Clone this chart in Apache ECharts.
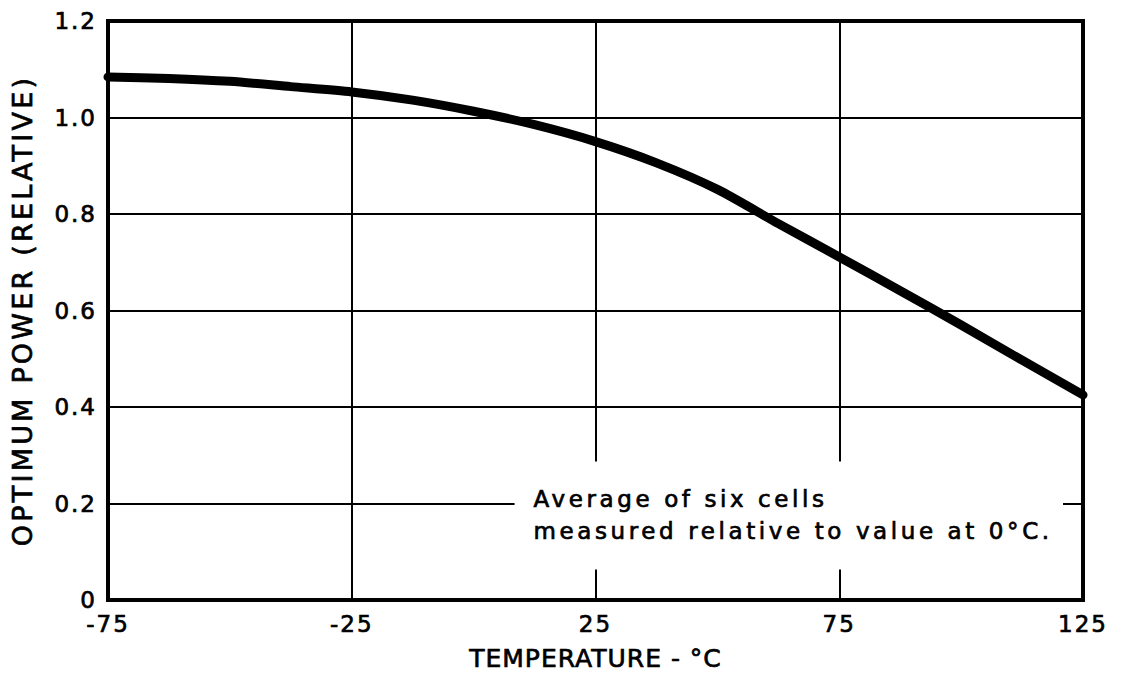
<!DOCTYPE html>
<html>
<head>
<meta charset="utf-8">
<script src="https://cdn.jsdelivr.net/npm/echarts@6/dist/echarts.min.js"></script>
<style>
  html, body { margin: 0; padding: 0; background: #ffffff; }
  #chart { width: 1124px; height: 679px; }
</style>
</head>
<body>
<div id="chart"></div>
<script>
// Temperature (°C) and optimum power relative to the 0 °C value
const temperatures = [-75, -62.5, -50, -37.5, -25, -12.5, 0, 12.5, 25, 37.5, 50, 62.5, 75, 87.5, 100, 112.5, 125];
const relativePower = [1.084, 1.081, 1.075, 1.064, 1.053, 1.036, 1.013, 0.985, 0.950, 0.906, 0.851, 0.780, 0.711, 0.641, 0.570, 0.497, 0.425];

// Axis ticks and labels
const xTicks = [-75, -25, 25, 75, 125];
const yTicks = [0, 0.2, 0.4, 0.6, 0.8, 1.0, 1.2];
const xTitle = 'TEMPERATURE - °C';
const yTitle = 'OPTIMUM POWER (RELATIVE)';
const noteLines = ['Average of six cells', 'measured relative to value at 0°C.'];

const FONT = '"DejaVu Sans", "Liberation Sans", sans-serif';
// a hairline outline gives the lettering a slightly heavier stroke
const INK = { color: '#000', textBorderColor: '#000', textBorderWidth: 0.7 };

const chart = echarts.init(document.getElementById('chart'), null, { renderer: 'svg' });

const points = temperatures.map((t, i) => [t, relativePower[i]]);

chart.setOption({
  animation: false,
  backgroundColor: '#ffffff',
  grid: {
    left: 108, right: 41, top: 21, bottom: 79,
    show: true, borderColor: '#000', borderWidth: 4, backgroundColor: 'transparent'
  },
  xAxis: {
    type: 'value',
    min: xTicks[0],
    max: xTicks[xTicks.length - 1],
    name: xTitle,
    nameLocation: 'middle',
    nameGap: 46,
    nameTextStyle: Object.assign({ fontFamily: FONT, fontSize: 25 }, INK),
    axisLine: { show: true, onZero: false, lineStyle: { color: '#000', width: 4 } },
    axisTick: { show: false, customValues: xTicks },
    axisLabel: Object.assign({
      customValues: xTicks,
      fontFamily: FONT, fontSize: 23, margin: 12
    }, INK),
    splitLine: { show: true, lineStyle: { color: '#000', width: 2 } }
  },
  yAxis: {
    type: 'value',
    min: yTicks[0],
    max: yTicks[yTicks.length - 1],
    interval: 0.2,
    name: yTitle,
    nameLocation: 'middle',
    nameGap: 72,
    nameTextStyle: Object.assign({ fontFamily: FONT, fontSize: 27 }, INK),
    axisLine: { show: true, onZero: false, lineStyle: { color: '#000', width: 4 } },
    axisTick: { show: false },
    axisLabel: Object.assign({
      fontFamily: FONT, fontSize: 23, margin: 11,
      formatter: v => (v === 0 ? '0' : v.toFixed(1))
    }, INK),
    splitLine: { show: true, lineStyle: { color: '#000', width: 2 } }
  },
  series: [{
    type: 'line',
    data: points,
    smooth: 0.25,
    symbol: 'none',
    lineStyle: { color: '#000', width: 9, cap: 'round', join: 'round' },
    z: 3
  }]
});

// Note box: a white panel that interrupts the grid lines, holding two lines of text
const boxTL = chart.convertToPixel({ gridIndex: 0 }, [8.4, 0.287]);
const boxBR = chart.convertToPixel({ gridIndex: 0 }, [120.9, 0.063]);
const textTL = chart.convertToPixel({ gridIndex: 0 }, [12.3, 0.243]);

chart.setOption({
  graphic: [
    {
      type: 'rect',
      z: 10,
      shape: { x: boxTL[0], y: boxTL[1], width: boxBR[0] - boxTL[0], height: boxBR[1] - boxTL[1] },
      style: { fill: '#ffffff' }
    },
    {
      type: 'text',
      z: 11,
      x: textTL[0],
      y: textTL[1],
      style: {
        text: noteLines.join('\n'),
        font: '23px ' + FONT,
        fill: '#000',
        stroke: '#000',
        lineWidth: 0.7,
        lineHeight: 32,
        textAlign: 'left',
        textVerticalAlign: 'top'
      }
    }
  ]
});

// Stencil-style lettering: widen the spacing between characters
function spaceLetters() {
  document.querySelectorAll('#chart svg text').forEach(el => {
    const s = el.textContent || '';
    let ls = 2;
    if (s === yTitle) ls = 3.2;
    else if (s === xTitle) ls = 1;
    else if (noteLines.indexOf(s) >= 0) ls = 3.6;
    else if (/^-?\d/.test(s)) ls = 2;
    el.setAttribute('letter-spacing', ls + 'px');
  });
}
spaceLetters();
chart.on('finished', spaceLetters);
</script>
</body>
</html>
